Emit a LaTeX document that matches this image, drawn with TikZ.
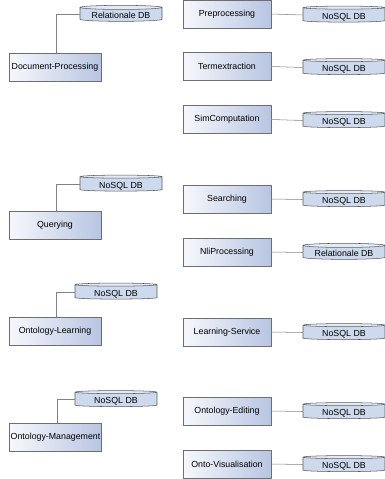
\documentclass[tikz,border=0pt]{standalone}
\usepackage{fontspec}
\setmainfont{Liberation Sans}
\usetikzlibrary{positioning,shapes.geometric}
\definecolor{boxlight}{RGB}{246,248,252}
\definecolor{boxdark}{RGB}{184,197,226}
\definecolor{boxline}{RGB}{110,110,110}
\definecolor{dbbody}{RGB}{205,218,238}
\definecolor{dbtop}{RGB}{226,234,246}
\definecolor{dbline}{RGB}{90,90,90}
\definecolor{linkgray}{RGB}{130,130,130}

\begin{document}
\begin{tikzpicture}[x=0.75pt,y=0.75pt,
  every node/.style={font=\fontsize{6.6}{8}\selectfont},
  proc/.style={rectangle,draw=boxline,left color=boxlight,right color=boxdark,
    minimum height=21pt,inner sep=1pt},
  lproc/.style={proc,minimum width=69pt},
  rproc/.style={proc,minimum width=66pt},
  db/.style={cylinder,shape border rotate=90,draw=dbline,aspect=0.07,
    cylinder uses custom fill,cylinder body fill=dbbody,cylinder end fill=dbtop,
    minimum width=61.5pt,minimum height=12pt,inner sep=0pt,
    text height=6.5pt,text depth=0pt},
  link/.style={draw=linkgray}]

  \useasboundingbox (0,0) rectangle (385,-479);

  % left column
  \node[lproc] (docproc) at (55,-67) {Document-Processing};
  \node[db] (docprocdb) at (121,-14.5) {Relationale DB};

  \node[lproc] (query) at (55,-225.5) {Querying};
  \node[db] (querydb) at (121,-184) {NoSQL DB};

  \node[lproc] (ontolearn) at (55,-331) {Ontology-Learning};
  \node[db] (ontolearndb) at (116,-292) {NoSQL DB};

  \node[lproc] (ontomgmt) at (55.5,-437.5) {Ontology-Management};
  \node[db] (ontomgmtdb) at (116,-399.5) {NoSQL DB};

  \draw[link] ([xshift=1]docproc.north) |- (docprocdb.west);
  \draw[link] ([xshift=1]query.north) |- (querydb.west);
  \draw[link] ([xshift=1]ontolearn.north) |- (ontolearndb.west);
  \draw[link] ([xshift=1]ontomgmt.north) |- (ontomgmtdb.west);

  % right column
  \node[rproc] (preproc) at (227,-14) {Preprocessing};
  \node[db] (preprocdb) at (344,-15) {NoSQL DB};

  \node[rproc] (termext) at (227,-66.5) {Termextraction};
  \node[db] (termextdb) at (344,-67.5) {NoSQL DB};

  \node[rproc] (simcomp) at (227,-119.5) {SimComputation};
  \node[db] (simcompdb) at (344,-120.5) {NoSQL DB};

  \node[rproc] (search) at (227,-199) {Searching};
  \node[db] (searchdb) at (344,-199.5) {NoSQL DB};

  \node[rproc] (nliproc) at (227,-252) {NliProcessing};
  \node[db] (nliprocdb) at (344,-252.5) {Relationale DB};

  \node[rproc] (learnserv) at (227,-332) {Learning-Service};
  \node[db] (learnservdb) at (344,-332.5) {NoSQL DB};

  \node[rproc] (ontoedit) at (227,-411) {Ontology-Editing};
  \node[db] (ontoeditdb) at (344,-411.5) {NoSQL DB};

  \node[rproc] (ontovis) at (227,-464) {Onto-Visualisation};
  \node[db] (ontovisdb) at (344,-464.5) {NoSQL DB};

  \foreach \n in {preproc,termext,simcomp,search,nliproc,learnserv,ontoedit,ontovis}
    \draw[link] (\n.east) -- (\n db.west);
\end{tikzpicture}
\end{document}
